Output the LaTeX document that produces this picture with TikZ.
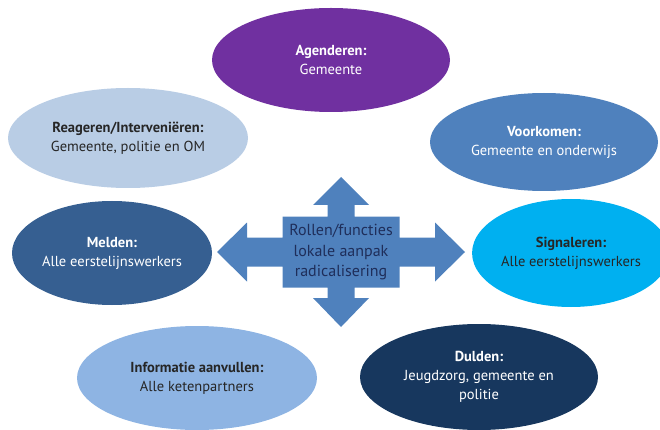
\documentclass[tikz,border=0pt]{standalone}
\usepackage{fontspec}
\setmainfont{PT Sans}
\usetikzlibrary{shapes.geometric, positioning}
\definecolor{agendaPurple}{HTML}{7030A0}
\definecolor{reageerBlue}{HTML}{B9CDE5}
\definecolor{voorkomBlue}{HTML}{4F81BD}
\definecolor{meldBlue}{HTML}{365F91}
\definecolor{signaalCyan}{HTML}{00B0F0}
\definecolor{infoBlue}{HTML}{8EB4E3}
\definecolor{duldNavy}{HTML}{17375E}
\definecolor{crossText}{HTML}{1F2E5A}
\tikzstyle{roleNode} = [ellipse, inner sep=0pt, text centered, align=center, font=\fontsize{14.5}{19}\selectfont]
\tikzstyle{roleNodeD} = [roleNode, text=white]
\tikzstyle{roleNodeL} = [roleNode, text=black!85]
\tikzstyle{centreNode} = [align=center, text=crossText, font=\fontsize{16}{20.5}\selectfont]
\tikzstyle{crossArrow} = [fill=voorkomBlue]

\begin{document}
\begin{tikzpicture}[x=1pt, y=-1pt]
        \useasboundingbox (0,0) rectangle (660,430);

        \node (agenderen) [roleNodeD, fill=agendaPurple, minimum width=238pt, minimum height=104pt] at (331,60) {\textbf{Agenderen:}\\Gemeente};
        \node (reageren) [roleNodeL, fill=reageerBlue, minimum width=240pt, minimum height=100pt] at (128,138) {\textbf{Reageren/Interveniëren:}\\Gemeente, politie en OM};
        \node (voorkomen) [roleNodeD, fill=voorkomBlue, minimum width=228pt, minimum height=98pt] at (544,142) {\textbf{Voorkomen:}\\Gemeente en onderwijs};
        \node (melden) [roleNodeD, fill=meldBlue, minimum width=200pt, minimum height=104pt] at (112,253) {\textbf{Melden:}\\Alle eerstelijnswerkers};
        \node (signaleren) [roleNodeL, fill=signaalCyan, minimum width=192pt, minimum height=108pt] at (571,253) {\textbf{Signaleren:}\\Alle eerstelijnswerkers};
        \node (informatie) [roleNodeL, fill=infoBlue, minimum width=240pt, minimum height=104pt] at (197,378) {\textbf{Informatie aanvullen:}\\Alle ketenpartners};
        \node (dulden) [roleNodeD, fill=duldNavy, minimum width=238pt, minimum height=106pt] at (479,377) {\textbf{Dulden:}\\Jeugdzorg, gemeente en\\politie};

        % four-way arrow in the middle
        \fill [crossArrow, shift={(341,252)}] (0,-75) -- (28,-47) -- (13.5,-47) -- (13.5,-35.5) -- (58.5,-35.5) -- (58.5,-14.5)
            -- (94,-14.5) -- (94,-29.5) -- (124,0) -- (94,29.5) -- (94,14.5) -- (58.5,14.5) -- (58.5,35.5)
            -- (13.5,35.5) -- (13.5,46) -- (28,46) -- (0,75) -- (-28,46) -- (-13.5,46) -- (-13.5,35.5)
            -- (-58.5,35.5) -- (-58.5,14.5) -- (-94,14.5) -- (-94,29.5) -- (-124,0) -- (-94,-29.5) -- (-94,-14.5)
            -- (-58.5,-14.5) -- (-58.5,-35.5) -- (-13.5,-35.5) -- (-13.5,-47) -- (-28,-47) -- cycle;
        \node (rollen) [centreNode] at (341,252) {Rollen/functies\\lokale aanpak\\radicalisering};

    \end{tikzpicture}
\end{document}
